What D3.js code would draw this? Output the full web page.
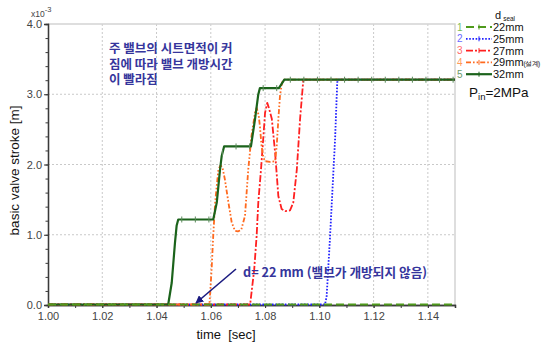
<!DOCTYPE html>
<html>
<head>
<meta charset="utf-8">
<script src="https://cdn.jsdelivr.net/npm/d3@7"></script>
<style>
  html, body { margin: 0; padding: 0; background: #fff; }
  svg { display: block; font-family: "Liberation Sans", Arial, sans-serif; }
</style>
</head>
<body>
<svg id="chart" width="541" height="343"></svg>
<script>
// Seal diameters (legend order) and their valve stroke histories [x10^-3 m]
const seals = ["22mm", "25mm", "27mm", "29mm", "32mm"];
const sealNotes = ["", "", "", "(설계)", ""];

const t22 = [1.000, 1.150];
const v22 = [0, 0];

const t25 = [1.000, 1.1021, 1.1027, 1.1039, 1.1058, 1.1066, 1.1069, 1.150];
const v25 = [0, 0, 0.12, 0.93, 2.35, 3.16, 3.20, 3.20];

const t27 = [1.000, 1.0745, 1.0760, 1.0769, 1.0775, 1.0785, 1.0794, 1.0800, 1.0808, 1.0814,
             1.0825, 1.0837, 1.0849, 1.0861, 1.0874, 1.0892, 1.0904, 1.0917, 1.0929, 1.0941, 1.150];
const v27 = [0, 0, 0.50, 0.98, 1.45, 1.92, 2.40, 2.73, 2.87, 2.80,
             2.64, 2.16, 1.54, 1.36, 1.33, 1.34, 1.45, 1.92, 2.64, 3.20, 3.20];

const t29 = [1.000, 1.0595, 1.0603, 1.0609, 1.0616, 1.0622, 1.0628, 1.0636, 1.0643, 1.0652,
             1.0665, 1.0677, 1.0689, 1.0700, 1.0712, 1.0726, 1.0738, 1.0750, 1.0763, 1.0769,
             1.0776, 1.0781, 1.0787, 1.0794, 1.0800, 1.0818, 1.0837, 1.0843, 1.0849, 1.0855,
             1.0861, 1.0867, 1.150];
const v29 = [0, 0, 0.50, 0.98, 1.45, 1.69, 1.92, 1.98, 1.95, 1.78,
             1.45, 1.17, 1.05, 1.04, 1.06, 1.26, 1.92, 2.40, 2.73, 2.80,
             2.70, 2.54, 2.26, 2.09, 2.04, 2.03, 2.04, 2.26, 2.64, 2.97,
             3.13, 3.20, 3.20];

const t32 = [1.000, 1.0443, 1.0456, 1.0468, 1.0474, 1.0480, 1.0609, 1.0622, 1.0634, 1.0640,
             1.0649, 1.0748, 1.0763, 1.0775, 1.0781, 1.0851, 1.0871, 1.150];
const v32 = [0, 0, 0.31, 0.88, 1.12, 1.21, 1.21, 1.45, 1.92, 2.11,
             2.25, 2.25, 2.64, 2.99, 3.08, 3.08, 3.20, 3.20];

const xTicks = [1.00, 1.02, 1.04, 1.06, 1.08, 1.10, 1.12, 1.14];
const yTicks = [0, 1, 2, 3, 4];

const colors = ["#4f9a1c", "#2020ff", "#ff2020", "#ff6a1f", "#1b631b"];
const numColors = ["#7cbc5a", "#6a6aff", "#ff6a6a", "#ff9a5a", "#6a9a6a"];
const dashes = ["8,4", "1.6,1.6", "7,2,2,2", "5,2,1.6,2,1.6,2", null];
const widths = [2, 1.8, 1.8, 1.8, 2.2];

const series = [
  { t: t22, v: v22 }, { t: t25, v: v25 }, { t: t27, v: v27 },
  { t: t29, v: v29 }, { t: t32, v: v32 }
].map((s, i) => ({
  name: seals[i], note: sealNotes[i], color: colors[i], dash: dashes[i], width: widths[i],
  pts: s.t.map((t, j) => ({ t, v: s.v[j] }))
}));

const svg = d3.select("#chart");
const L = 48, R = 455, T = 24, B = 305;

const x = d3.scaleLinear().domain([1.00, 1.15]).range([L, R]);
const y = d3.scaleLinear().domain([0, 4]).range([B, T]);

// grid
const grid = svg.append("g").attr("stroke", "#c9c9c9").attr("stroke-dasharray", "2,2").attr("stroke-width", 1);
xTicks.filter(d => d > 1.0).forEach(d => {
  grid.append("line").attr("x1", x(d)).attr("x2", x(d)).attr("y1", T).attr("y2", B);
});
yTicks.filter(d => d > 0 && d < 4).forEach(d => {
  grid.append("line").attr("x1", L).attr("x2", R).attr("y1", y(d)).attr("y2", y(d));
});

// light frame on top and right
svg.append("path")
  .attr("d", `M${L},${T}H${R}V${B}`)
  .attr("fill", "none").attr("stroke", "#d4d4d4").attr("stroke-width", 1.5);

// axes
const axisColor = "#3a3a3a";
const xMinor = d3.range(0, 16).map(i => 1.0 + i * 0.01);
const gxMinor = svg.append("g").attr("transform", `translate(0,${B})`)
  .call(d3.axisBottom(x).tickValues(xMinor).tickSize(3).tickFormat(""));
const gx = svg.append("g").attr("transform", `translate(0,${B})`)
  .call(d3.axisBottom(x).tickValues(xTicks).tickSize(3).tickPadding(4).tickFormat(d3.format(".2f")));

const yMinor = d3.range(0, 21).map(i => i * 0.2);
const gyMinor = svg.append("g").attr("transform", `translate(${L},0)`)
  .call(d3.axisLeft(y).tickValues(yMinor).tickSize(2.5).tickFormat(""));
const gy = svg.append("g").attr("transform", `translate(${L},0)`)
  .call(d3.axisLeft(y).tickValues(yTicks).tickSize(4).tickPadding(2).tickFormat(d3.format(".1f")));

[gx, gy, gxMinor, gyMinor].forEach(g => {
  g.select(".domain").attr("stroke", axisColor).attr("stroke-width", 1.3);
  g.selectAll(".tick line").attr("stroke", axisColor);
  g.selectAll(".tick text").attr("fill", "#444").attr("font-size", 11)
    .attr("font-family", "'Liberation Sans', Arial, sans-serif");
});

// exponent label
const ex = svg.append("text").attr("x", 31).attr("y", 16.5).attr("fill", "#444").attr("font-size", 8.5);
ex.append("tspan").text("x10");
ex.append("tspan").attr("dy", -5).attr("font-size", 7.5).text("-3");

// axis titles
svg.append("text")
  .attr("transform", `translate(19,${(T + B) / 2 + 6}) rotate(-90)`)
  .attr("text-anchor", "middle").attr("font-size", 13.5).attr("fill", "#111")
  .text("basic valve stroke [m]");
svg.append("text")
  .attr("x", 226).attr("y", 339).attr("text-anchor", "middle")
  .attr("font-size", 13).attr("fill", "#111").attr("xml:space", "preserve")
  .style("white-space", "pre")
  .text("time  [sec]");

// series lines
const line = d3.line().x(d => x(d.t)).y(d => y(d.v) - 0.5);
const order = [1, 2, 3, 4, 0];
order.forEach(i => {
  const s = series[i];
  svg.append("path")
    .datum(s.pts)
    .attr("fill", "none")
    .attr("stroke", s.color)
    .attr("stroke-width", s.width)
    .attr("stroke-dasharray", s.dash)
    .attr("stroke-linejoin", "round")
    .attr("d", line);
});

// small tick markers along the 32 mm curve
const interp = (pts, t) => {
  const i = d3.bisector(d => d.t).right(pts, t);
  if (i <= 0) return pts[0].v;
  if (i >= pts.length) return pts[pts.length - 1].v;
  const a = pts[i - 1], b = pts[i];
  return a.v + (b.v - a.v) * (t - a.t) / (b.t - a.t);
};
const markT = d3.range(0, 21).map(k => 1.0493 + k * 0.005);
svg.append("g").selectAll("line").data(markT).join("line")
  .attr("x1", d => x(d)).attr("x2", d => x(d))
  .attr("y1", d => y(interp(series[4].pts, d)) - 3.5)
  .attr("y2", d => y(interp(series[4].pts, d)) + 2.5)
  .attr("stroke", "#5a8a5a").attr("stroke-width", 1);

// annotations
const noteColor = "#35359c";
["주 밸브의 시트면적이 커", "짐에 따라 밸브 개방시간", "이 빨라짐"].forEach((s, i) => {
  svg.append("text").attr("x", 109).attr("y", 53 + i * 15.7)
    .attr("fill", noteColor).attr("font-size", 12.5).attr("font-weight", "bold")
    .attr("font-family", "'Noto Sans CJK KR', sans-serif")
    .text(s);
});
svg.append("text").attr("x", 243).attr("y", 276.5).attr("fill", noteColor)
  .attr("font-size", 12.7).attr("font-weight", "bold")
  .attr("font-family", "'Noto Sans CJK KR', sans-serif")
  .text("d= 22 mm (밸브가 개방되지 않음)");

// arrow
svg.append("defs").append("marker")
  .attr("id", "ah").attr("viewBox", "0 0 10 10").attr("refX", 9).attr("refY", 5)
  .attr("markerWidth", 5).attr("markerHeight", 5).attr("orient", "auto")
  .append("path").attr("d", "M0,0L10,5L0,10z").attr("fill", "#1a1a80");
svg.append("line")
  .attr("x1", 236).attr("y1", 269).attr("x2", 196).attr("y2", 303)
  .attr("stroke", "#1a1a80").attr("stroke-width", 1.6).attr("marker-end", "url(#ah)");

// legend
const lg = svg.append("g");
const hd = lg.append("text").attr("x", 495).attr("y", 19).attr("font-size", 11).attr("fill", "#111");
hd.append("tspan").text("d");
hd.append("tspan").attr("dx", 2).attr("dy", 2).attr("font-size", 6.5).text("seal");

series.forEach((s, i) => {
  const cy = 27 + i * 11.8;
  lg.append("text").attr("x", 457).attr("y", cy + 3.5).attr("font-size", 10)
    .attr("fill", numColors[i]).text(i + 1);
  lg.append("line").attr("x1", 466).attr("x2", 492).attr("y1", cy).attr("y2", cy)
    .attr("stroke", s.color).attr("stroke-width", s.width).attr("stroke-dasharray", s.dash);
  lg.append("line").attr("x1", 479).attr("x2", 479).attr("y1", cy - 2.5).attr("y2", cy + 2.5)
    .attr("stroke", s.color).attr("stroke-width", 1);
  const tx = lg.append("text").attr("x", 493).attr("y", cy + 4).attr("font-size", 11)
    .attr("fill", "#111");
  tx.append("tspan").text(s.name);
  if (s.note) {
    tx.append("tspan").attr("font-size", 6.5).attr("letter-spacing", -0.6).text(s.note);
  }
});

const pin = lg.append("text").attr("x", 469).attr("y", 97).attr("font-size", 13.5).attr("fill", "#111");
pin.append("tspan").text("P");
pin.append("tspan").attr("dy", 3).attr("font-size", 9.5).text("in");
pin.append("tspan").attr("dy", -3).text("=2MPa");
</script>
</body>
</html>
